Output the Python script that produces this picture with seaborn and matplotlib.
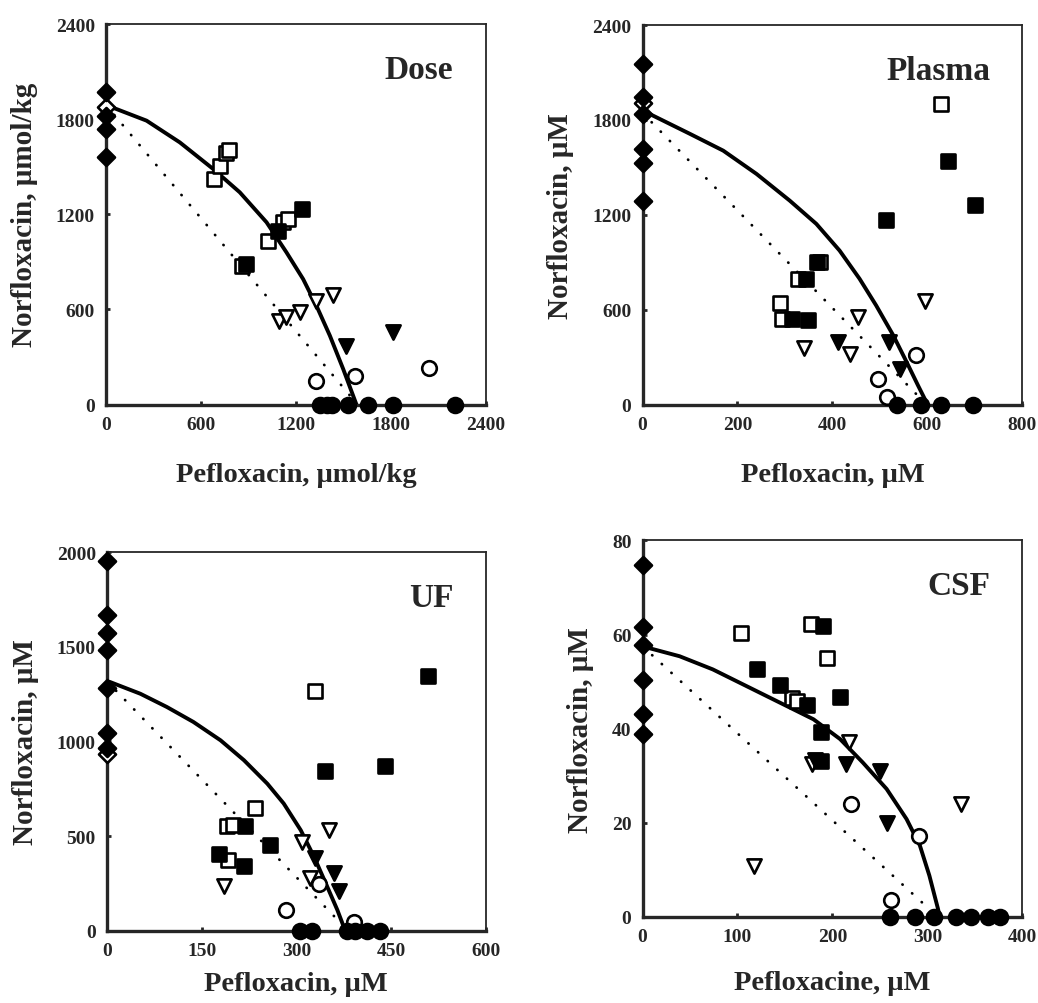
import matplotlib
matplotlib.use("Agg")
import matplotlib.pyplot as plt
import seaborn as sns
import pandas as pd

# ---- Dose panel (umol/kg) ----
dose_curve = [(0, 1890), (257, 1791), (467, 1654), (678, 1486), (846, 1339), (1015, 1150),
              (1141, 960), (1246, 792), (1330, 624), (1415, 435), (1499, 225), (1583, 0)]
dose_line = [(0, 1890), (1590, 0)]
dose_diam_fill = [(0, 1970), (0, 1820), (0, 1740), (0, 1560)]
dose_diam_open = [(0, 1875)]
dose_circ_fill = [(1352, 0), (1400, 0), (1427, 0), (1528, 0), (1655, 0), (1813, 0), (2204, 0)]
dose_circ_open = [(1330, 151), (1572, 179), (2042, 229)]
dose_sq_open = [(680, 1420), (720, 1505), (760, 1590), (775, 1605), (857, 876),
                (1025, 1034), (1120, 1150), (1151, 1171)]
dose_sq_fill = [(884, 887), (1088, 1097), (1236, 1234)]
dose_tri_open = [(1095, 525), (1141, 551), (1225, 582), (1330, 656), (1436, 691)]
dose_tri_fill = [(1520, 372), (1815, 456)]

# ---- Plasma panel (uM) ----
plasma_curve = [(0, 1845), (15, 1838), (100, 1712), (170, 1606), (240, 1459), (310, 1290),
                (366, 1143), (415, 974), (457, 796), (492, 627), (528, 438), (556, 270),
                (580, 122), (594, 38), (598, 0)]
plasma_line = [(0, 1845), (598, 0)]
plasma_diam_fill = [(0, 2153), (0, 1947), (0, 1837), (0, 1616), (0, 1528), (0, 1290)]
plasma_diam_open = [(0, 1905)]
plasma_circ_fill = [(535, 0), (587, 0), (629, 0), (695, 0)]
plasma_circ_open = [(575, 314), (496, 162), (514, 46)]
plasma_sq_open = [(628, 1898), (373, 905), (328, 796), (289, 644), (293, 543)]
plasma_sq_fill = [(644, 1542), (700, 1264), (512, 1168), (367, 899), (345, 796),
                  (314, 543), (349, 533)]
plasma_tri_open = [(594, 657), (454, 552), (340, 358), (437, 320)]
plasma_tri_fill = [(412, 398), (519, 398), (542, 225)]

# ---- UF panel (uM) ----
uf_curve = [(0, 1318), (5, 1314), (53, 1252), (95, 1182), (137, 1103), (180, 1006),
            (217, 901), (254, 777), (280, 672), (307, 531), (328, 391), (349, 232),
            (365, 109), (375, 21), (378, 0)]
uf_line = [(0, 1318), (382, 0)]
uf_diam_fill = [(0, 1956), (0, 1666), (0, 1574), (0, 1481), (0, 1284), (0, 1045), (0, 967)]
uf_diam_open = [(0, 936)]
uf_circ_fill = [(305, 0), (325, 0), (381, 0), (393, 0), (412, 0), (433, 0)]
uf_circ_open = [(336, 246), (284, 109), (391, 47)]
uf_sq_open = [(330, 1265), (235, 651), (190, 553), (200, 558), (191, 373)]
uf_sq_fill = [(509, 1344), (441, 869), (345, 844), (259, 452), (218, 554), (177, 405), (217, 341)]
uf_tri_open = [(351, 531), (309, 470), (322, 276), (185, 236)]
uf_tri_fill = [(330, 382), (359, 306), (367, 211)]

# ---- CSF panel (uM) ----
csf_curve = [(0, 57.5), (39, 55.4), (74, 52.6), (109, 49.1), (145, 45.5), (180, 42.0),
             (208, 37.8), (232, 32.8), (257, 27.2), (278, 20.8), (292, 15.2), (302, 8.8),
             (311, 1.8), (313, 0)]
csf_line = [(0, 57.5), (311, 0)]
csf_diam_fill = [(0, 74.8), (0, 61.6), (0, 57.8), (0, 50.3), (0, 43.1), (0, 38.8)]
csf_diam_open = []
csf_circ_fill = [(261, 0), (287, 0), (307, 0), (330, 0), (346, 0), (364, 0), (376, 0)]
csf_circ_open = [(219, 24.0), (291, 17.3), (262, 3.5)]
csf_sq_open = [(104, 60.4), (177, 62.3), (194, 55.1), (157, 46.5), (163, 45.9)]
csf_sq_fill = [(190, 61.9), (121, 52.7), (145, 49.2), (173, 45.0), (208, 46.8), (188, 39.4), (188, 33.2)]
csf_tri_open = [(217, 37.1), (178, 32.5), (117, 10.9), (335, 24.0)]
csf_tri_fill = [(214, 32.6), (250, 31.1), (257, 19.9), (182, 33.3)]

panels = [
    dict(title="Dose", xlabel="Pefloxacin, \u03bcmol/kg", ylabel="Norfloxacin, \u03bcmol/kg",
         xlim=2400, ylim=2400, xt=[0, 600, 1200, 1800, 2400], yt=[0, 600, 1200, 1800, 2400],
         curve=dose_curve, line=dose_line, diam_fill=dose_diam_fill, diam_open=dose_diam_open,
         circ_fill=dose_circ_fill, circ_open=dose_circ_open, sq_open=dose_sq_open,
         sq_fill=dose_sq_fill, tri_open=dose_tri_open, tri_fill=dose_tri_fill,
         rect=[0.102, 0.596, 0.366, 0.379], xpad=21),
    dict(title="Plasma", xlabel="Pefloxacin, \u03bcM", ylabel="Norfloxacin, \u03bcM",
         xlim=800, ylim=2400, xt=[0, 200, 400, 600, 800], yt=[0, 600, 1200, 1800, 2400],
         curve=plasma_curve, line=plasma_line, diam_fill=plasma_diam_fill, diam_open=plasma_diam_open,
         circ_fill=plasma_circ_fill, circ_open=plasma_circ_open, sq_open=plasma_sq_open,
         sq_fill=plasma_sq_fill, tri_open=plasma_tri_open, tri_fill=plasma_tri_fill,
         rect=[0.619, 0.596, 0.366, 0.378], xpad=21),
    dict(title="UF", xlabel="Pefloxacin, \u03bcM", ylabel="Norfloxacin, \u03bcM",
         xlim=600, ylim=2000, xt=[0, 150, 300, 450, 600], yt=[0, 500, 1000, 1500, 2000],
         curve=uf_curve, line=uf_line, diam_fill=uf_diam_fill, diam_open=uf_diam_open,
         circ_fill=uf_circ_fill, circ_open=uf_circ_open, sq_open=uf_sq_open,
         sq_fill=uf_sq_fill, tri_open=uf_tri_open, tri_fill=uf_tri_fill,
         rect=[0.103, 0.072, 0.365, 0.377], xpad=9),
    dict(title="CSF", xlabel="Pefloxacine, \u03bcM", ylabel="Norfloxacin, \u03bcM",
         xlim=400, ylim=80, xt=[0, 100, 200, 300, 400], yt=[0, 20, 40, 60, 80],
         curve=csf_curve, line=csf_line, diam_fill=csf_diam_fill, diam_open=csf_diam_open,
         circ_fill=csf_circ_fill, circ_open=csf_circ_open, sq_open=csf_sq_open,
         sq_fill=csf_sq_fill, tri_open=csf_tri_open, tri_fill=csf_tri_fill,
         rect=[0.619, 0.0857, 0.366, 0.375], xpad=18),
]

sns.set_style("ticks")
plt.rcParams["font.family"] = ["Liberation Serif", "DejaVu Serif"]
plt.rcParams["font.weight"] = "bold"

fig = plt.figure(figsize=(10.38, 10.04), dpi=100)

# marker kind -> (marker, size, filled)
kinds = [("diam_open", "D", 75, False), ("sq_open", "s", 90, False), ("tri_open", "v", 105, False),
         ("circ_open", "o", 110, False), ("diam_fill", "D", 75, True), ("sq_fill", "s", 90, True),
         ("tri_fill", "v", 105, True), ("circ_fill", "o", 115, True)]

for p in panels:
    ax = fig.add_axes(p["rect"])
    cdf = pd.DataFrame(p["curve"], columns=["x", "y"])
    ldf = pd.DataFrame(p["line"], columns=["x", "y"])
    sns.lineplot(data=cdf, x="x", y="y", sort=False, color="black", lw=2.8, ax=ax, zorder=2)
    sns.lineplot(data=ldf, x="x", y="y", sort=False, color="black", lw=2.0, ax=ax, zorder=2,
                 linestyle=(0, (0.1, 4.6)), dash_capstyle="round")
    for i, (key, mk, sz, filled) in enumerate(kinds):
        pts = p[key]
        if not pts:
            continue
        df = pd.DataFrame(pts, columns=["x", "y"])
        sns.scatterplot(data=df, x="x", y="y", marker=mk, s=sz, ax=ax,
                        facecolor="black" if filled else "white", edgecolor="black",
                        linewidth=1.9, zorder=3 + i, clip_on=False)
    ax.set_xlim(0, p["xlim"])
    ax.set_ylim(0, p["ylim"])
    ax.set_xticks(p["xt"])
    ax.set_yticks(p["yt"])
    ax.tick_params(direction="in", length=3, width=2, labelsize=14, pad=8)
    for lab in ax.get_xticklabels() + ax.get_yticklabels():
        lab.set_fontweight("bold")
    for side in ["left", "bottom"]:
        ax.spines[side].set_linewidth(2.4)
    for side in ["top", "right"]:
        ax.spines[side].set_linewidth(1.3)
    ax.set_xlabel(p["xlabel"], fontsize=20.5, fontweight="bold", labelpad=p["xpad"])
    ax.set_ylabel(p["ylabel"], fontsize=21, fontweight="bold", labelpad=13)
    ax.text(0.915, 0.88, p["title"], transform=ax.transAxes, ha="right", va="center",
            fontsize=24, fontweight="bold")

fig.savefig("out.png", dpi=100)
